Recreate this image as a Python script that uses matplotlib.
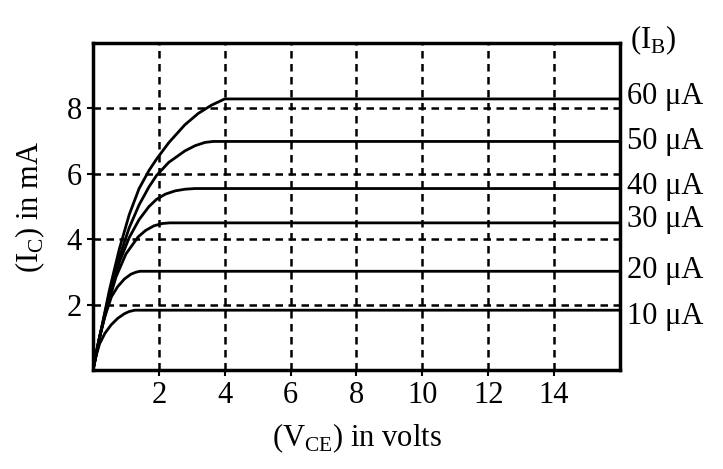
import matplotlib.pyplot as plt

plt.rcParams['font.family'] = ['Liberation Serif', 'DejaVu Serif']
plt.rcParams['mathtext.fontset'] = 'custom'
plt.rcParams['mathtext.rm'] = 'Liberation Serif'

# transistor output characteristics
v_10 = [0, 0.1, 0.2, 0.36, 0.55, 0.75, 0.95, 1.1, 1.27, 16]
i_10 = [0, 0.45, 0.8, 1.12, 1.38, 1.58, 1.72, 1.79, 1.83, 1.83]
v_20 = [0, 0.15, 0.35, 0.56, 0.75, 0.95, 1.15, 1.3, 1.42, 16]
i_20 = [0, 0.8, 1.6, 2.24, 2.55, 2.78, 2.93, 2.99, 3.02, 3.02]
v_30 = [0, 0.2, 0.45, 0.7, 1.0, 1.37, 1.6, 1.85, 2.1, 2.33, 16]
i_30 = [0, 1.0, 2.0, 2.85, 3.55, 4.07, 4.27, 4.41, 4.48, 4.5, 4.5]
v_40 = [0, 0.2, 0.5, 0.8, 1.1, 1.4, 1.7, 1.93, 2.2, 2.5, 2.8, 3.1, 16]
i_40 = [0, 1.0, 2.3, 3.3, 4.05, 4.6, 5.0, 5.22, 5.38, 5.48, 5.53, 5.55, 5.55]
v_50 = [0, 0.2, 0.5, 0.8, 1.1, 1.4, 1.7, 1.93, 2.3, 2.79, 3.1, 3.4, 3.65, 16]
i_50 = [0, 1.0, 2.35, 3.45, 4.35, 5.05, 5.6, 5.95, 6.35, 6.7, 6.86, 6.96, 6.99, 6.99]
v_60 = [0, 0.2, 0.5, 0.8, 1.1, 1.4, 1.7, 1.93, 2.3, 2.79, 3.2, 3.6, 4.0, 16]
i_60 = [0, 1.0, 2.45, 3.7, 4.75, 5.55, 6.1, 6.45, 6.95, 7.5, 7.85, 8.1, 8.29, 8.29]

curves = [(v_10, i_10), (v_20, i_20), (v_30, i_30),
          (v_40, i_40), (v_50, i_50), (v_60, i_60)]
ib_labels = ['10 μA', '20 μA', '30 μA', '40 μA', '50 μA', '60 μA']
label_y = [1.65, 3.05, 4.6, 5.6, 7.0, 8.35]

x_ticks = [2, 4, 6, 8, 10, 12, 14]
y_ticks = [2, 4, 6, 8]

fig = plt.figure(figsize=(7.23, 4.69), dpi=100)
ax = fig.add_axes([0.1286, 0.211, 0.7289, 0.6973])

for v, i in curves:
    ax.plot(v, i, color='black', lw=2.0, solid_capstyle='butt', solid_joinstyle='round')

for x in x_ticks:
    ax.axvline(x, color='black', lw=1.8, ls=(0, (3, 2.2)), zorder=0)
for y in y_ticks:
    ax.axhline(y, color='black', lw=1.8, ls=(0, (3, 2.2)), zorder=0)

ax.set_xlim(0, 16)
ax.set_ylim(0, 10)
ax.set_xticks(x_ticks)
ax.set_yticks(y_ticks)
ax.tick_params(labelsize=22, length=4, width=1.5, direction='out', colors='black', pad=4)
for s in ax.spines.values():
    s.set_linewidth(2.5)

ax.set_xlabel(r'(V$_{\mathrm{CE}}$) in volts', fontsize=22, labelpad=8)
ax.set_ylabel(r'(I$_{\mathrm{C}}$) in mA', fontsize=22, labelpad=14)

for lab, y in zip(ib_labels, label_y):
    ax.text(16.2, y, lab, fontsize=22, va='center', ha='left', clip_on=False)
ax.text(16.3, 10.1, r'(I$_{\mathrm{B}}$)', fontsize=22,
        va='center', ha='left', clip_on=False)

plt.savefig('out.png', dpi=100)
